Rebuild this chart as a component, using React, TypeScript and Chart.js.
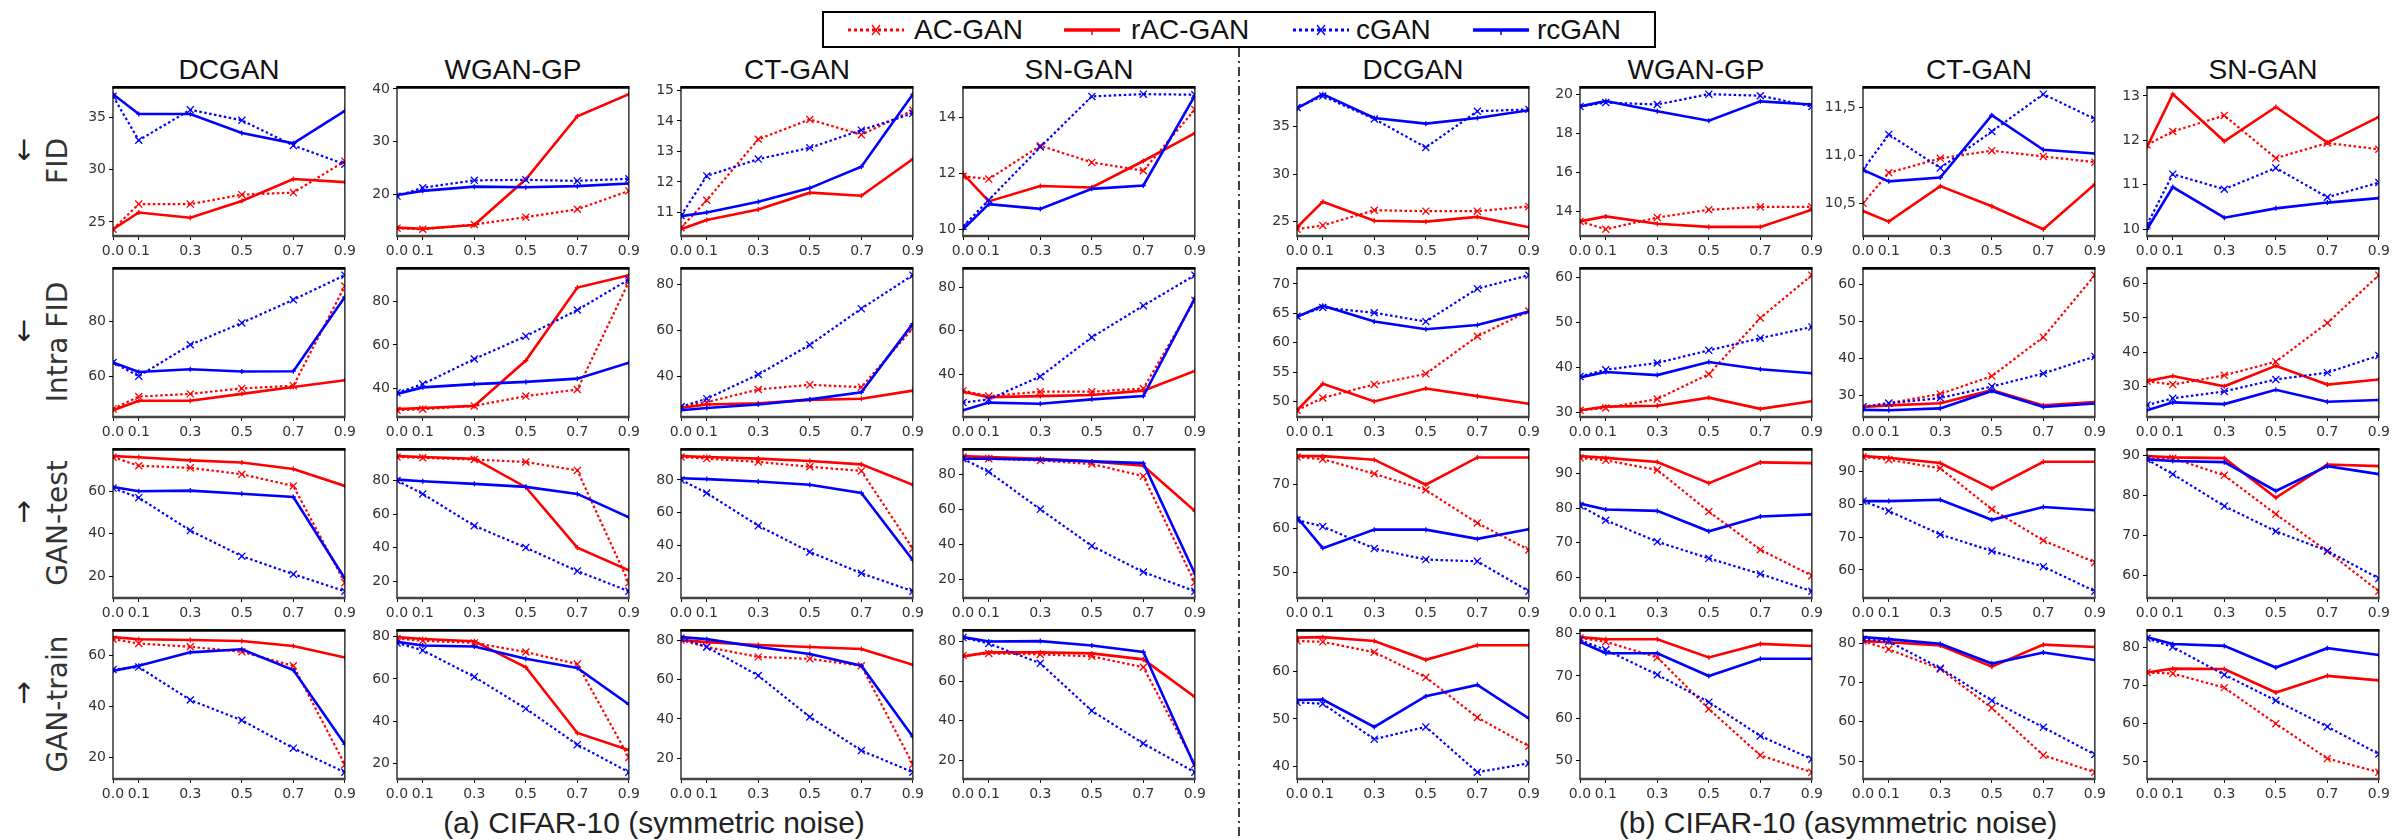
import React, { useEffect, useRef } from 'react';
import { Chart, registerables } from 'chart.js';
Chart.register(...registerables);

// ---------------- data ----------------
const NOISE = [0.0, 0.1, 0.3, 0.5, 0.7, 0.9];
const X_TICKS = [0.0, 0.1, 0.3, 0.5, 0.7, 0.9];
const METHODS = ['DCGAN', 'WGAN-GP', 'CT-GAN', 'SN-GAN', 'DCGAN', 'WGAN-GP', 'CT-GAN', 'SN-GAN'];
const METRICS = ['FID', 'Intra FID', 'GAN-test', 'GAN-train'];
const ARROWS = ['↓', '↓', '↑', '↑'];
const SERIES_NAMES = ['AC-GAN', 'rAC-GAN', 'cGAN', 'rcGAN'];
const SUBTITLES = ['(a) CIFAR-10 (symmetric noise)', '(b) CIFAR-10 (asymmetric noise)'];
// tick step of the y axis, per row and column
const Y_STEPS = [
  [5, 10, 1, 2, 5, 2, 0.5, 1],
  [20, 20, 20, 20, 5, 10, 10, 10],
  [20, 20, 20, 20, 10, 10, 10, 10],
  [20, 20, 20, 20, 10, 10, 10, 10],
];

// FID
const FID_AC = [
  [24.3, 26.7, 26.7, 27.6, 27.8, 30.8],
  [13.5, 13.3, 14.2, 15.6, 17.1, 20.6],
  [10.5, 11.4, 13.4, 14.05, 13.55, 14.35],
  [11.9, 11.8, 13.0, 12.4, 12.1, 14.3],
  [24.2, 24.6, 26.2, 26.1, 26.1, 26.6],
  [13.5, 13.1, 13.7, 14.1, 14.25, 14.25],
  [10.5, 10.82, 10.97, 11.05, 10.99, 10.93],
  [11.9, 12.2, 12.56, 11.6, 11.94, 11.8],
];
const FID_RAC = [
  [24.3, 25.9, 25.4, 27.0, 29.1, 28.8],
  [13.6, 13.4, 14.1, 22.8, 34.8, 39.0],
  [10.45, 10.75, 11.1, 11.65, 11.55, 12.75],
  [12.0, 11.0, 11.55, 11.5, 12.45, 13.45],
  [24.4, 27.1, 25.1, 25.0, 25.5, 24.4],
  [13.5, 13.76, 13.38, 13.22, 13.22, 14.1],
  [10.42, 10.31, 10.68, 10.47, 10.23, 10.7],
  [11.85, 13.04, 11.98, 12.75, 11.95, 12.53],
];
const FID_C = [
  [37.0, 32.8, 35.7, 34.7, 32.3, 30.5],
  [19.6, 21.2, 22.6, 22.7, 22.5, 22.9],
  [10.9, 12.2, 12.75, 13.12, 13.7, 14.25],
  [10.1, 11.05, 12.95, 14.77, 14.85, 14.83],
  [37.0, 38.2, 35.8, 32.8, 36.6, 36.8],
  [19.4, 19.6, 19.5, 20.03, 19.95, 19.4],
  [10.85, 11.22, 10.87, 11.25, 11.64, 11.38],
  [10.1, 11.24, 10.9, 11.38, 10.72, 11.05],
];
const FID_RC = [
  [37.2, 35.3, 35.3, 33.5, 32.5, 35.6],
  [19.8, 20.6, 21.4, 21.3, 21.5, 22.0],
  [10.88, 11.0, 11.35, 11.8, 12.5, 14.88],
  [10.0, 10.9, 10.73, 11.45, 11.57, 14.8],
  [36.9, 38.4, 35.9, 35.3, 35.9, 36.7],
  [19.4, 19.68, 19.15, 18.67, 19.66, 19.5],
  [10.85, 10.73, 10.77, 11.42, 11.06, 11.02],
  [10.0, 10.95, 10.26, 10.47, 10.6, 10.7],
];

// Intra FID
const IFID_AC = [
  [48, 52.5, 53.5, 55.5, 56.5, 93],
  [30, 30.5, 32, 36.5, 39.5, 89],
  [27, 29, 34.5, 36.5, 35.5, 61],
  [32.5, 30, 32, 32, 33.5, 74],
  [48.5, 50.6, 52.9, 54.7, 61.1, 65.4],
  [30.5, 31, 33, 38.5, 51, 60.5],
  [27, 28, 30.5, 35.3, 45.8, 62.5],
  [31.5, 30.5, 33.2, 37.2, 48.5, 62.5],
];
const IFID_RAC = [
  [47.5, 51, 51, 53.5, 56, 58.5],
  [30.5, 31, 32, 52.8, 86.3, 92],
  [26.5, 28, 28.5, 30, 30.5, 34],
  [32, 29.5, 30, 30.5, 32.5, 41.5],
  [48.5, 53, 50, 52.2, 50.9, 49.6],
  [30.5, 31.3, 31.5, 33.3, 30.8, 32.5],
  [27, 27.4, 28, 31.5, 27.4, 28.3],
  [31.5, 33, 30, 36, 30.5, 32],
];
const IFID_C = [
  [65, 60, 71.5, 79.5, 88, 97],
  [38, 42, 53.5, 64, 76, 90],
  [27, 30.5, 41, 53.8, 69.5, 84],
  [27, 28.5, 39, 57, 71.5, 85.5],
  [64.5, 66, 65.1, 63.6, 69.2, 71.5],
  [38, 39.5, 41, 43.8, 46.5, 49],
  [27, 28, 29.4, 32.5, 36, 40.6],
  [24.5, 26.5, 28.5, 32, 34, 39],
];
const IFID_RC = [
  [65, 61.5, 62.5, 61.7, 61.8, 89],
  [37.5, 40.5, 42, 43, 44.5, 51.8],
  [25.5, 26.5, 28, 30.2, 33.3, 63],
  [23.5, 27, 26.5, 28.5, 30, 75],
  [64.4, 66.3, 63.6, 62.3, 63, 65.3],
  [37.8, 39, 38.3, 41.2, 39.6, 38.7],
  [26.2, 26.1, 26.6, 31.3, 27, 27.9],
  [23, 25.3, 24.8, 29, 25.5, 26],
];

// GAN-test
const TEST_AC = [
  [76, 72, 71, 68, 62.5, 17],
  [94, 93.5, 92.5, 91, 86, 19],
  [94, 93, 91, 88, 85.5, 38],
  [90, 89, 88, 86, 79, 18],
  [76.3, 75.8, 72.5, 68.8, 61.3, 55.2],
  [94.5, 93.8, 91, 79, 68, 60.5],
  [94.5, 93.6, 91, 78.5, 69, 62.3],
  [89, 89.3, 85, 75.3, 66, 56],
];
const TEST_RAC = [
  [76.5, 76, 74.5, 73.5, 70.5, 62.5],
  [94.5, 94, 93, 76, 40, 26.5],
  [94.5, 94, 93, 91.5, 89.5, 77],
  [90.5, 90, 89, 87.5, 85, 59],
  [76.5, 76.5, 75.7, 70, 76.2, 76.2],
  [95, 94.5, 93.3, 87.2, 93.2, 93],
  [94.7, 94.2, 92.6, 84.8, 93, 93],
  [89.8, 89.5, 89.3, 79.4, 87.7, 87.3],
];
const TEST_C = [
  [61.5, 57, 41.5, 29.5, 21, 13],
  [80, 72, 53, 40, 26, 14],
  [80, 72, 52, 36, 23, 12],
  [89, 81.5, 60, 39, 24, 13],
  [62, 60.5, 55.5, 53, 52.6, 45.8],
  [80.7, 76.5, 70.3, 65.5, 61, 56],
  [81, 78, 70.8, 65.8, 61, 53.5],
  [89, 85.3, 77.3, 71, 66.1, 59.2],
];
const TEST_RC = [
  [62, 60, 60.3, 58.8, 57.3, 19],
  [80.5, 79.5, 78, 76.2, 72, 58],
  [81, 80.5, 79, 77, 72, 31],
  [89, 89, 88.5, 87.5, 86.5, 23],
  [62.6, 55.6, 59.8, 59.8, 57.7, 59.9],
  [81.3, 79.6, 79.2, 73.3, 77.6, 78.2],
  [81, 81, 81.4, 75.3, 79.2, 78.2],
  [89, 88.6, 88.3, 81.1, 87.3, 85.3],
];

// GAN-train
const TRAIN_AC = [
  [66.5, 64.8, 63.5, 61.5, 56, 17],
  [79, 78, 77, 72.7, 67, 23],
  [80, 76.5, 71.5, 70.5, 67, 17],
  [73, 74, 73.5, 72.5, 67, 18],
  [66.5, 66.3, 64.1, 58.8, 50.3, 44.2],
  [79, 78.1, 74.4, 62.2, 51.2, 47.2],
  [80.5, 78.4, 73.4, 63.5, 51.5, 47.2],
  [73.5, 73.2, 69.5, 60, 50.8, 47.2],
];
const TRAIN_RAC = [
  [67.3, 66.5, 66.2, 65.8, 63.8, 59.3],
  [79.7, 78.8, 77.8, 65.5, 34.5, 26.5],
  [80, 79, 77.5, 76.5, 75.5, 67.5],
  [72.5, 74.5, 74.5, 74, 71, 52],
  [67.2, 67.3, 66.5, 62.5, 65.6, 65.6],
  [79.2, 78.7, 78.7, 74.4, 77.6, 77.1],
  [80.5, 80.2, 79.4, 74, 79.6, 79],
  [73.5, 74.5, 74.4, 68.2, 72.6, 71.4],
];
const TRAIN_C = [
  [54.5, 55.5, 42.5, 34.5, 23.5, 14],
  [77, 73.5, 61, 46, 29, 16],
  [81, 76.5, 62, 41, 24, 13],
  [82, 79, 69, 45, 28.5, 14],
  [53.5, 53.2, 45.7, 48.3, 38.7, 40.6],
  [78.5, 76.2, 70.3, 63.8, 55.8, 50.3],
  [81, 80.4, 73.6, 65.4, 58.6, 51.7],
  [82.5, 80.2, 72.9, 66.1, 59.2, 52],
];
const TRAIN_RC = [
  [54, 56, 61.3, 62.5, 54.3, 25],
  [77.5, 75.8, 75.3, 69.5, 65.2, 48],
  [81.5, 80.5, 76.5, 73, 67, 31],
  [82.2, 80, 80.2, 78, 74.7, 17],
  [54, 54.1, 48.3, 54.8, 57.2, 50.1],
  [78.1, 75.4, 75.4, 70, 74.1, 74.1],
  [81.5, 81, 79.8, 74.8, 77.6, 75.7],
  [82.8, 81, 80.5, 74.8, 79.9, 78.1],
];

const ROWS_DATA = [
  [FID_AC, FID_RAC, FID_C, FID_RC],
  [IFID_AC, IFID_RAC, IFID_C, IFID_RC],
  [TEST_AC, TEST_RAC, TEST_C, TEST_RC],
  [TRAIN_AC, TRAIN_RAC, TRAIN_C, TRAIN_RC],
];

// ---------------- layout / style ----------------
const COL_LEFT = [113, 397, 681, 963, 1297, 1580, 1863, 2147];
const ROW_TOP = [86, 267, 448, 629];
const BOX_W = 232;
const BOX_H = 150;
const Y_AXIS_W = 50;
const PAD_TOP = 10;
const PAD_RIGHT = 14;
const X_AXIS_H = 26;

const RED = '#ff0000';
const BLUE = '#0000ff';
const STYLES = [
  { color: RED, dash: [2.5, 2.5], width: 2.2, point: 'crossRot', r: 5 },
  { color: RED, dash: [], width: 2.6, point: 'cross', r: 2.5 },
  { color: BLUE, dash: [2.5, 2.5], width: 2.2, point: 'crossRot', r: 5 },
  { color: BLUE, dash: [], width: 2.6, point: 'cross', r: 2.5 },
];
const ORDERS = [4, 3, 2, 1];

const TICK_FONT = { family: 'DejaVu Sans', size: 14 };
const TICK_COLOR = '#333';

const framePlugin = {
  id: 'frame',
  afterDraw(chart: any) {
    const { ctx, chartArea: a } = chart;
    ctx.save();
    ctx.strokeStyle = '#000';
    ctx.lineWidth = 1.2;
    ctx.strokeRect(a.left, a.top, a.right - a.left, a.bottom - a.top);
    ctx.lineWidth = 2.6;
    ctx.beginPath();
    ctx.moveTo(a.left - 0.6, a.top);
    ctx.lineTo(a.right + 0.6, a.top);
    ctx.stroke();
    ctx.strokeStyle = '#444';
    ctx.beginPath();
    ctx.moveTo(a.left - 0.6, a.bottom);
    ctx.lineTo(a.right + 0.6, a.bottom);
    ctx.stroke();
    ctx.restore();
  },
};

function Panel({ row, col }: { row: number; col: number }) {
  const ref = useRef<HTMLCanvasElement>(null);
  const w = Y_AXIS_W + BOX_W + PAD_RIGHT;
  const h = PAD_TOP + BOX_H + X_AXIS_H;
  useEffect(() => {
    const canvas = ref.current;
    if (!canvas) return;
    const seriesSet = ROWS_DATA[row].map((s) => s[col]);
    let lo = Infinity;
    let hi = -Infinity;
    seriesSet.forEach((s) => s.forEach((v) => { lo = Math.min(lo, v); hi = Math.max(hi, v); }));
    const pad = (hi - lo) * 0.05;
    const yMin = lo - pad;
    const yMax = hi + pad;
    const step = Y_STEPS[row][col];
    const datasets = seriesSet.map((vals, i) => ({
      label: SERIES_NAMES[i],
      data: NOISE.map((x, k) => ({ x, y: vals[k] })),
      borderColor: STYLES[i].color,
      backgroundColor: STYLES[i].color,
      borderDash: STYLES[i].dash,
      borderWidth: STYLES[i].width,
      pointStyle: STYLES[i].point,
      pointRadius: STYLES[i].r,
      pointBorderWidth: 1.3,
      pointBorderColor: STYLES[i].color,
      tension: 0,
      fill: false,
      order: ORDERS[i],
    }));
    const chart = new Chart(canvas, {
      type: 'line',
      data: { datasets },
      options: {
        animation: false,
        responsive: false,
        maintainAspectRatio: false,
        devicePixelRatio: 1,
        layout: { padding: { left: 0, right: PAD_RIGHT, top: PAD_TOP, bottom: 0 } },
        plugins: { legend: { display: false }, tooltip: { enabled: false } },
        scales: {
          x: {
            type: 'linear',
            min: 0,
            max: 0.9,
            afterBuildTicks: (s: any) => { s.ticks = X_TICKS.map((v) => ({ value: v })); },
            afterFit: (s: any) => { s.height = X_AXIS_H; },
            ticks: {
              callback: (v: any) => Number(v).toFixed(1),
              font: TICK_FONT,
              color: TICK_COLOR,
              padding: 3,
              maxRotation: 0,
              minRotation: 0,
              autoSkip: false,
            },
            grid: { drawOnChartArea: false, drawTicks: true, tickLength: 4, color: '#000', lineWidth: 1 },
            border: { display: false },
          },
          y: {
            type: 'linear',
            min: yMin,
            max: yMax,
            afterBuildTicks: (s: any) => {
              const t: any[] = [];
              for (let v = Math.ceil(yMin / step - 1e-9) * step; v <= yMax + 1e-9; v += step) {
                t.push({ value: Math.round(v * 1000) / 1000 });
              }
              s.ticks = t;
            },
            afterFit: (s: any) => { s.width = Y_AXIS_W; },
            ticks: {
              callback: (v: any) => (step < 1 ? Number(v).toFixed(1).replace('.', ',') : String(Math.round(Number(v)))),
              font: TICK_FONT,
              color: TICK_COLOR,
              padding: 3,
              autoSkip: false,
            },
            grid: { drawOnChartArea: false, drawTicks: true, tickLength: 4, color: '#000', lineWidth: 1 },
            border: { display: false },
          },
        },
      },
      plugins: [framePlugin],
    } as any);
    return () => chart.destroy();
  }, [row, col]);
  return (
    <canvas
      ref={ref}
      width={w}
      height={h}
      style={{ position: 'absolute', left: COL_LEFT[col] - Y_AXIS_W, top: ROW_TOP[row] - PAD_TOP, width: w, height: h }}
    />
  );
}

const textBase: React.CSSProperties = {
  position: 'absolute',
  whiteSpace: 'nowrap',
  lineHeight: 1,
  transform: 'translate(-50%, -50%)',
};

function LegendSample({ i }: { i: number }) {
  const s = STYLES[i];
  const dashed = s.dash.length > 0;
  return (
    <svg width={56} height={20} style={{ position: 'absolute', left: 0, top: 0 }}>
      <line x1={0} y1={10} x2={56} y2={10} stroke={s.color} strokeWidth={dashed ? 3 : 3.5} strokeDasharray={dashed ? '3,3' : undefined} />
      {dashed ? (
        <g stroke={s.color} strokeWidth={1.3}>
          <line x1={24} y1={5} x2={32} y2={15} />
          <line x1={24} y1={15} x2={32} y2={5} />
        </g>
      ) : (
        <line x1={28} y1={10} x2={28} y2={15} stroke={s.color} strokeWidth={1.5} />
      )}
    </svg>
  );
}

const LEGEND_SAMPLE_X = [848, 1064, 1293, 1473];
const LEGEND_TEXT_X = [914, 1131, 1356, 1537];

export default function App() {
  const panels: JSX.Element[] = [];
  for (let r = 0; r < 4; r++) {
    for (let c = 0; c < 8; c++) {
      panels.push(<Panel key={`${r}-${c}`} row={r} col={c} />);
    }
  }
  return (
    <div style={{ position: 'absolute', left: 0, top: 0, width: 2394, height: 840, background: '#fff', overflow: 'hidden' }}>
      {/* legend */}
      <div style={{ position: 'absolute', left: 822, top: 11, width: 834, height: 37, border: '2.5px solid #000', boxSizing: 'border-box' }} />
      {SERIES_NAMES.map((n, i) => (
        <React.Fragment key={n}>
          <div style={{ position: 'absolute', left: LEGEND_SAMPLE_X[i], top: 20, width: 56, height: 20 }}>
            <LegendSample i={i} />
          </div>
          <div style={{ position: 'absolute', left: LEGEND_TEXT_X[i], top: 30, transform: 'translateY(-50%)', fontFamily: 'Liberation Sans, Arial, sans-serif', fontSize: 28, lineHeight: 1, color: '#111', whiteSpace: 'nowrap' }}>{n}</div>
        </React.Fragment>
      ))}
      {/* divider */}
      <svg width={6} height={800} style={{ position: 'absolute', left: 1236, top: 48 }}>
        <line x1={3} y1={0} x2={3} y2={800} stroke="#000" strokeWidth={1.5} strokeDasharray="9,4,2,4" />
      </svg>
      {/* column titles */}
      {METHODS.map((m, c) => (
        <div key={`t${c}`} style={{ ...textBase, left: COL_LEFT[c] + BOX_W / 2, top: 70, fontFamily: 'Liberation Sans, Arial, sans-serif', fontSize: 28, color: '#111' }}>{m}</div>
      ))}
      {/* row labels */}
      {METRICS.map((m, r) => (
        <React.Fragment key={`r${r}`}>
          <div style={{ ...textBase, left: 24, top: ROW_TOP[r] + BOX_H / 2 - 10, fontFamily: 'DejaVu Sans, sans-serif', fontSize: 28, color: '#222' }}>{ARROWS[r]}</div>
          <div style={{ ...textBase, left: 58, top: ROW_TOP[r] + BOX_H / 2, transform: 'translate(-50%, -50%) rotate(-90deg)', fontFamily: 'DejaVu Sans, sans-serif', fontSize: 28, color: '#333' }}>{m}</div>
        </React.Fragment>
      ))}
      {panels}
      {/* subtitles */}
      <div style={{ ...textBase, left: 654, top: 823, fontFamily: 'Liberation Sans, Arial, sans-serif', fontSize: 30, color: '#222' }}>{SUBTITLES[0]}</div>
      <div style={{ ...textBase, left: 1838, top: 823, fontFamily: 'Liberation Sans, Arial, sans-serif', fontSize: 30, color: '#222' }}>{SUBTITLES[1]}</div>
    </div>
  );
}
